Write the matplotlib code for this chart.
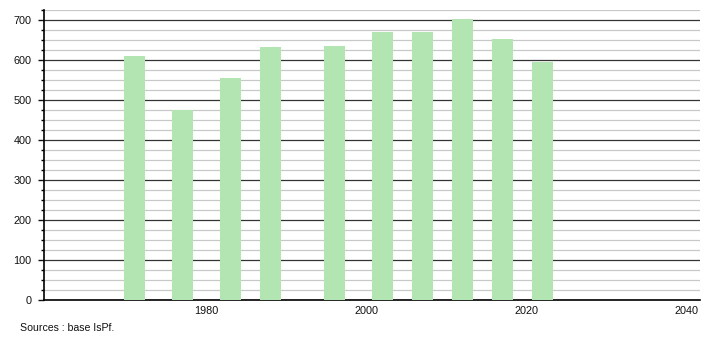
import matplotlib
matplotlib.use("Agg")
import matplotlib.pyplot as plt
from matplotlib.ticker import MultipleLocator

plt.rcParams['font.family'] = ['Liberation Sans', 'DejaVu Sans']

# census years and population
years = [1971, 1977, 1983, 1988, 1996, 2002, 2007, 2012, 2017, 2022]
population = [610, 475, 555, 632, 635, 670, 670, 702, 652, 595]
x_ticks = [1980, 2000, 2020, 2040]
source_text = "Sources : base IsPf."

fig = plt.figure(figsize=(7.1, 3.4), dpi=100)
ax = fig.add_axes([44 / 710, 40 / 340, 656 / 710, 290 / 340])

ax.bar(years, population, width=2.6, color='#b3e5b3', zorder=3)

ax.set_xlim(1959.7, 2041.7)
ax.set_ylim(0, 725)
ax.set_xticks(x_ticks)
ax.yaxis.set_major_locator(MultipleLocator(100))
ax.yaxis.set_minor_locator(MultipleLocator(25))

ax.grid(axis='y', which='major', color='#333333', linewidth=0.9, zorder=1)
ax.grid(axis='y', which='minor', color='#c8c8c8', linewidth=0.9, zorder=1)
ax.set_axisbelow(True)

for side in ['top', 'right']:
    ax.spines[side].set_visible(False)
ax.spines['left'].set_linewidth(1.2)
ax.spines['bottom'].set_linewidth(1.2)

ax.tick_params(axis='x', length=0, pad=4, labelsize=7.8, colors='#111111')
ax.tick_params(axis='y', which='major', length=4, width=1, pad=5,
               labelsize=7.8, colors='#111111')
ax.tick_params(axis='y', which='minor', length=2.2, width=1)

fig.text(20 / 710, 1 - 328 / 340, source_text, fontsize=7.6, color='#111111',
         va='center', ha='left')

plt.savefig("out.png", dpi=100)
plt.close()
